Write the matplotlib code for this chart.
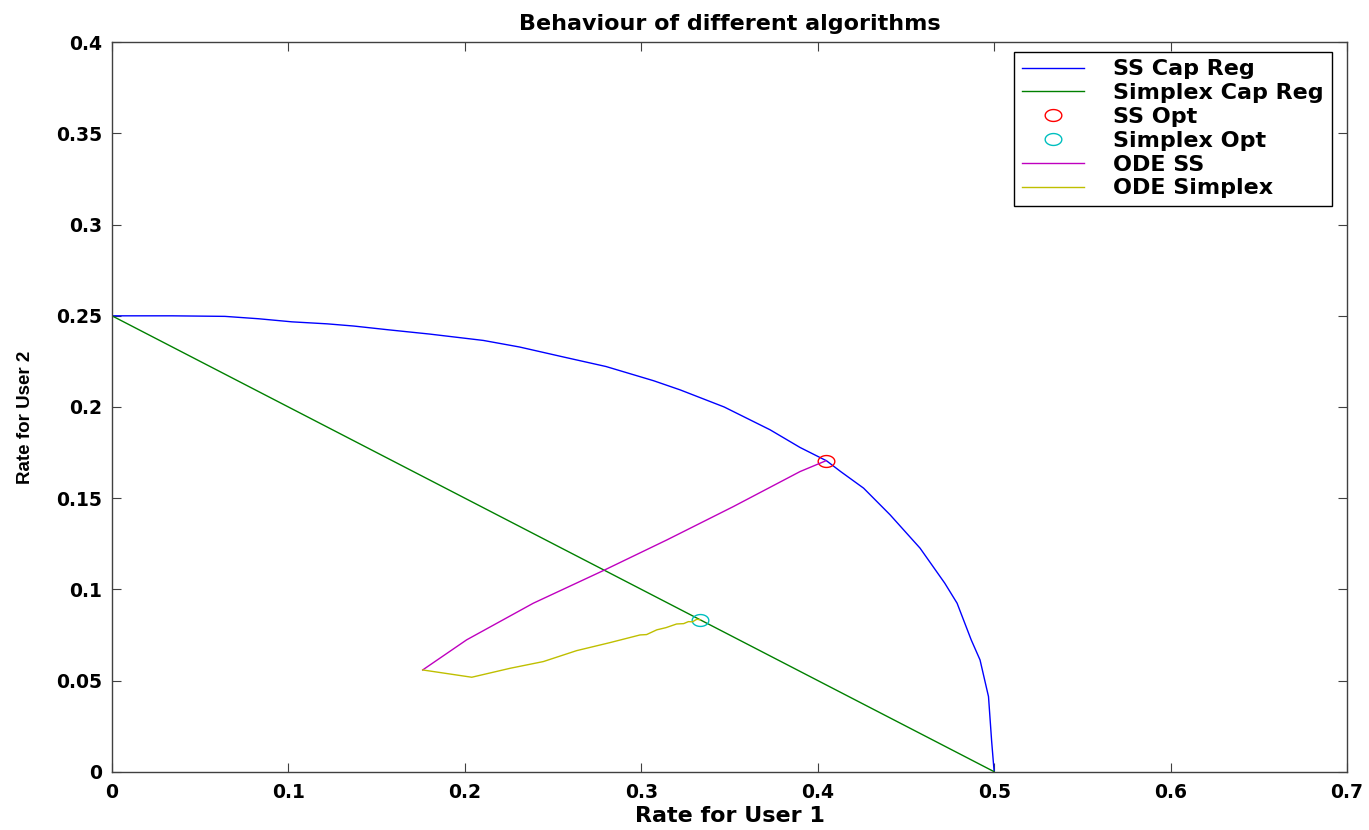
import matplotlib
matplotlib.use("Agg")
import matplotlib.pyplot as plt
from matplotlib.path import Path
import numpy as np

plt.rcParams['font.family'] = ['Liberation Sans', 'DejaVu Sans']

# Sum-capacity region boundary (rate user 1, rate user 2)
ss_cap_x = [0.0, 0.034, 0.064, 0.083, 0.102, 0.122, 0.137, 0.156, 0.180, 0.2105,
            0.231, 0.256, 0.280, 0.307, 0.322, 0.347, 0.373, 0.390, 0.405, 0.413,
            0.426, 0.441, 0.458, 0.472, 0.479, 0.487, 0.492, 0.4968, 0.4986, 0.5]
ss_cap_y = [0.25, 0.250, 0.2497, 0.2484, 0.2467, 0.2456, 0.2444, 0.2424, 0.240, 0.2365,
            0.2329, 0.2274, 0.2222, 0.2144, 0.2094, 0.200, 0.1875, 0.1778, 0.1705, 0.1646,
            0.1555, 0.1409, 0.1226, 0.1034, 0.0924, 0.0723, 0.0613, 0.0412, 0.0165, 0.0]

# Simplex capacity region boundary
simplex_cap_x = [0.0, 0.5]
simplex_cap_y = [0.25, 0.0]

# Optimal operating points
ss_opt = (0.4046, 0.1705)
simplex_opt = (1 / 3, 1 / 12)

# ODE trajectories
ode_ss_x = [0.1761, 0.201, 0.2388, 0.2785, 0.3145, 0.3522, 0.390, 0.4004, 0.4046]
ode_ss_y = [0.0558, 0.0723, 0.0924, 0.1103, 0.1271, 0.1454, 0.1646, 0.1688, 0.1705]

ode_simplex_x = [0.1761, 0.2039, 0.2256, 0.2445, 0.2634, 0.2823, 0.2993, 0.3030,
                 0.3088, 0.3140, 0.3200, 0.3240, 0.3267, 0.3290, 0.3315, 0.3333]
ode_simplex_y = [0.0558, 0.0518, 0.0567, 0.0604, 0.0664, 0.0708, 0.0750, 0.0752,
                 0.0778, 0.0790, 0.0810, 0.0812, 0.0823, 0.0822, 0.0836, 0.0833]

x_ticks = [0, 0.1, 0.2, 0.3, 0.4, 0.5, 0.6, 0.7]
x_tick_labels = ['0', '0.1', '0.2', '0.3', '0.4', '0.5', '0.6', '0.7']
y_ticks = [0, 0.05, 0.1, 0.15, 0.2, 0.25, 0.3, 0.35, 0.4]
y_tick_labels = ['0', '0.05', '0.1', '0.15', '0.2', '0.25', '0.3', '0.35', '0.4']

c_blue = (0, 0, 1)
c_green = (0, 0.5, 0)
c_red = (1, 0, 0)
c_cyan = (0, 0.75, 0.75)
c_magenta = (0.75, 0, 0.75)
c_yellow = (0.75, 0.75, 0)

# slightly wide elliptical circle marker
t = np.linspace(0, 2 * np.pi, 41)
ell_marker = Path(np.column_stack([1.4 * np.cos(t), np.sin(t)]), closed=True)

wide_font = dict(family='DejaVu Sans', weight='bold')
tick_font = dict(family='DejaVu Sans', weight='bold', size=13.5)

fig = plt.figure(figsize=(13.69, 8.30), dpi=100)
ax = fig.add_axes([112 / 1369, 1 - 771.7 / 830, (1347 - 112) / 1369, (771.7 - 42.3) / 830])

ax.plot(ss_cap_x, ss_cap_y, color=c_blue, lw=1.0, label='SS Cap Reg')
ax.plot(simplex_cap_x, simplex_cap_y, color=c_green, lw=1.0, label='Simplex Cap Reg')
ax.plot([ss_opt[0]], [ss_opt[1]], marker=ell_marker, ls='none', mfc='none', mec=c_red,
        mew=1.0, ms=12, label='SS Opt')
ax.plot([simplex_opt[0]], [simplex_opt[1]], marker=ell_marker, ls='none', mfc='none',
        mec=c_cyan, mew=1.0, ms=12, label='Simplex Opt')
ax.plot(ode_ss_x, ode_ss_y, color=c_magenta, lw=1.0, label='ODE SS')
ax.plot(ode_simplex_x, ode_simplex_y, color=c_yellow, lw=1.0, label='ODE Simplex')

ax.set_xlim(0, 0.7)
ax.set_ylim(0, 0.4)
ax.set_xticks(x_ticks)
ax.set_xticklabels(x_tick_labels, fontdict=tick_font)
ax.set_yticks(y_ticks)
ax.set_yticklabels(y_tick_labels, fontdict=tick_font)
ax.tick_params(direction='in', length=6.5, width=0.8, colors='#404040', labelcolor='black',
               top=True, right=True)
ax.tick_params(axis='x', pad=8)
ax.tick_params(axis='y', pad=7)
for s in ax.spines.values():
    s.set_color('#404040')
    s.set_linewidth(1.0)

ax.set_title('Behaviour of different algorithms', fontsize=16, pad=8.5, **wide_font)
ax.set_xlabel('Rate for User 1', fontsize=16, labelpad=3, **wide_font)
ax.set_ylabel('Rate for User 2', fontsize=13.5, fontweight='bold')
ax.yaxis.set_label_coords(-0.063, 0.486)

leg = ax.legend(loc='upper right', bbox_to_anchor=(1331.7 / 1369, 1 - 51.7 / 830),
                bbox_transform=fig.transFigure, prop=dict(size=16, **wide_font),
                frameon=True, fancybox=False, edgecolor='black', framealpha=1,
                handlelength=2.8, handletextpad=1.3, labelspacing=0.17, borderpad=0.35,
                borderaxespad=0)
leg.get_frame().set_linewidth(1.0)

fig.savefig('out.png', dpi=100)
